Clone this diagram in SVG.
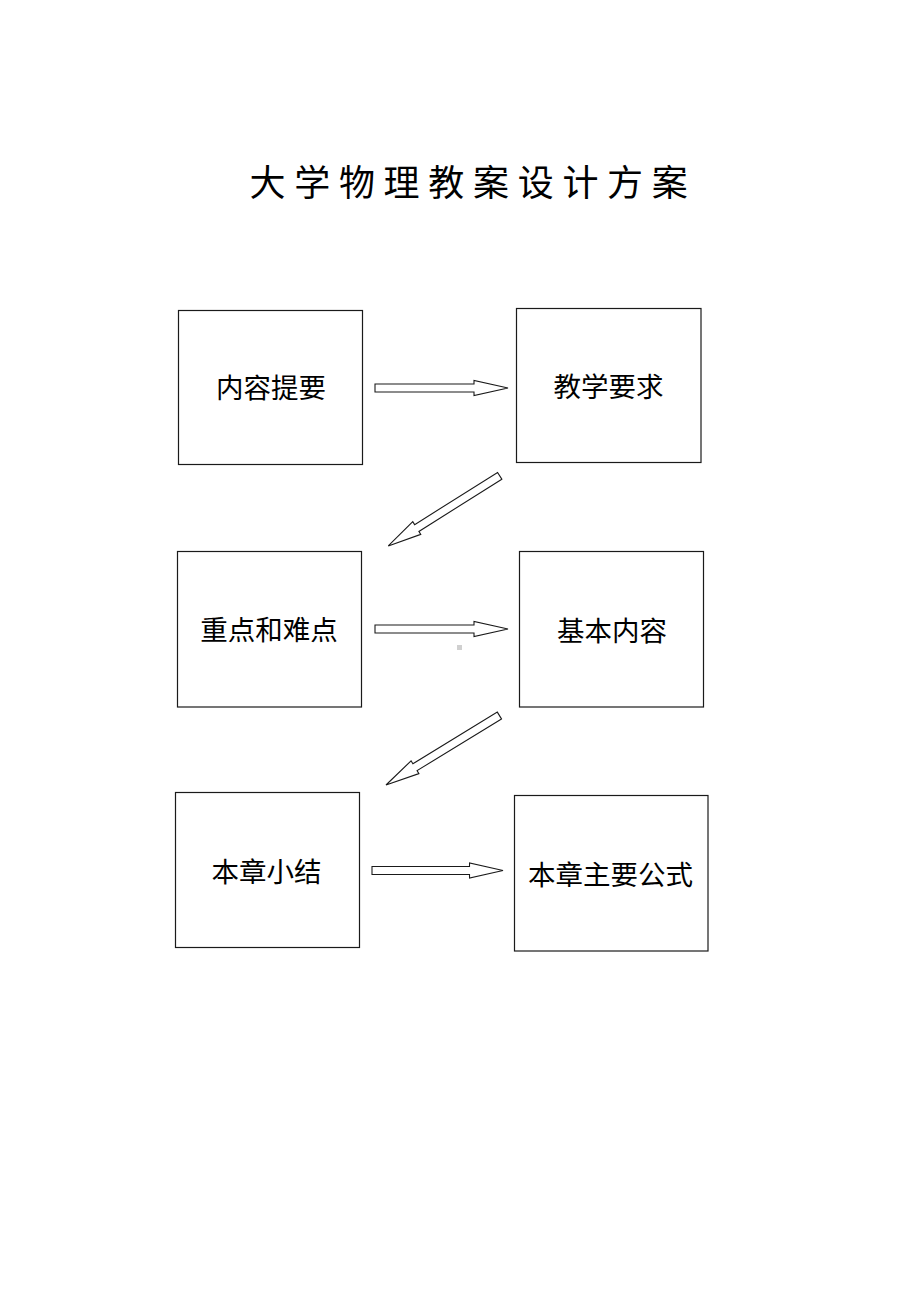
<svg xmlns="http://www.w3.org/2000/svg" width="920" height="1302" viewBox="0 0 920 1302">
<style>
.box{fill:#fff;stroke:#1a1a1a;stroke-width:1.2}
.lbl{font-family:"Noto Sans CJK SC","Noto Sans CJK JP",sans-serif;font-size:27.5px;fill:#000;text-anchor:middle}
.title{font-family:"Noto Sans CJK SC","Noto Sans CJK JP",sans-serif;font-size:36px;fill:#000;text-anchor:middle}
.arr{fill:#fff;stroke:#1a1a1a;stroke-width:1.1;stroke-linejoin:miter}
</style>
<defs>
<polygon id="ah" points="0,-4 99,-4 99,-7.5 133,0 99,7.5 99,4 0,4"/>
</defs>
<rect width="920" height="1302" fill="#fff"/>
<text class="title" x="267.5 312.2 356.9 401.6 446.3 491 535.7 580.4 625.1 669.8" y="196">大学物理教案设计方案</text>
<g id="connectors">
<use href="#ah" class="arr" transform="translate(375,388)"/>
<use href="#ah" class="arr" transform="translate(499.7,475.8) rotate(147.8) scale(0.99,1)"/>
<use href="#ah" class="arr" transform="translate(375,629)"/>
<use href="#ah" class="arr" transform="translate(499.4,715.5) rotate(148.5)"/>
<use href="#ah" class="arr" transform="translate(372,870.5) scale(0.985,1)"/>
</g>
<rect x="457" y="645" width="5" height="5" fill="#d0d0d0"/>
<g id="n1"><rect class="box" x="178.5" y="310.5" width="184" height="154"/><text class="lbl" x="271" y="398">内容提要</text></g>
<g id="n2"><rect class="box" x="516.5" y="308.5" width="184.5" height="154"/><text class="lbl" x="608.5" y="397">教学要求</text></g>
<g id="n3"><rect class="box" x="177.5" y="551.5" width="184" height="155.5"/><text class="lbl" x="269" y="640">重点和难点</text></g>
<g id="n4"><rect class="box" x="519.5" y="551.5" width="184" height="155.5"/><text class="lbl" x="612" y="641">基本内容</text></g>
<g id="n5"><rect class="box" x="175.5" y="792.5" width="184" height="155"/><text class="lbl" x="266.5" y="882">本章小结</text></g>
<g id="n6"><rect class="box" x="514.5" y="795.5" width="193.5" height="155.5"/><text class="lbl" x="610.5" y="885">本章主要公式</text></g>
</svg>
